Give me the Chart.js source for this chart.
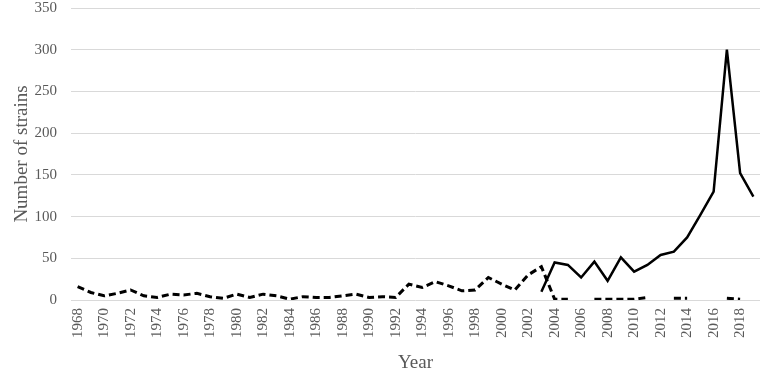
<!DOCTYPE html>
<html>
<head>
<meta charset="utf-8">
<script src="https://cdn.jsdelivr.net/npm/chart.js@4/dist/chart.umd.min.js"></script>
<style>
  html, body { margin: 0; padding: 0; background: #fff; }
  #wrap { width: 765px; height: 374px; position: relative; }
</style>
</head>
<body>
<div id="wrap"><canvas id="chart"></canvas></div>
<script>
// Years 1968 - 2019
const years = [];
for (let y = 1968; y <= 2019; y++) years.push(String(y));

// dashed series, 1968..2019 (null = no value)
const dashedValues = [
  16, 9, 5, 8, 12, 5, 3, 7, 6, 8,
  4, 2, 7, 3, 7, 5, 1, 4, 3, 3,
  5, 7, 3, 4, 3, 19, 15, 22, 17, 11,
  12, 27, 19, 12, 30, 40, 1, 1, null, 1,
  1, 1, 1, 3, null, 2, 2, null, null, 2,
  1, null
];

// solid series, 1968..2019
const solidValues = [
  null, null, null, null, null, null, null, null, null, null,
  null, null, null, null, null, null, null, null, null, null,
  null, null, null, null, null, null, null, null, null, null,
  null, null, null, null, null, 10, 45, 42, 27, 46,
  23, 51, 34, 42, 54, 58, 75, 102, 130, 300,
  152, 124
];

const yTicks = [0, 50, 100, 150, 200, 250, 300, 350];

const serif = '"Liberation Serif", "Times New Roman", serif';

new Chart(document.getElementById('chart'), {
  type: 'line',
  data: {
    labels: years,
    datasets: [
      {
        label: 'dashed',
        data: dashedValues,
        borderColor: '#000',
        borderWidth: 3,
        borderDash: [7, 4],
        pointRadius: 0,
        tension: 0,
        spanGaps: false
      },
      {
        label: 'solid',
        data: solidValues,
        borderColor: '#000',
        borderWidth: 2.5,
        pointRadius: 0,
        tension: 0,
        spanGaps: false
      }
    ]
  },
  options: {
    responsive: true,
    maintainAspectRatio: false,
    animation: false,
    layout: { padding: { top: 8, right: 5, left: 0, bottom: 0 } },
    plugins: {
      legend: { display: false },
      tooltip: { enabled: false }
    },
    scales: {
      x: {
        offset: true,
        grid: { display: false, drawTicks: false },
        border: { display: false },
        ticks: {
          autoSkip: false,
          minRotation: 90,
          maxRotation: 90,
          padding: 8,
          color: '#595959',
          font: { family: serif, size: 15 },
          callback: function(value, index) {
            return index % 2 === 0 ? years[index] : '';
          }
        },
        title: {
          display: true,
          text: 'Year',
          color: '#595959',
          font: { family: serif, size: 19 },
          padding: { top: 4, bottom: 0 }
        },
        afterFit: function(scale) {
          scale.height = 74;
          scale.paddingLeft = 0;
          scale.paddingRight = 0;
        }
      },
      y: {
        min: 0,
        max: 350,
        afterBuildTicks: function(scale) {
          scale.ticks = yTicks.map(v => ({ value: v }));
        },
        grid: { color: '#d9d9d9', lineWidth: 1, drawTicks: false },
        border: { display: false },
        ticks: {
          padding: 14,
          color: '#595959',
          font: { family: serif, size: 15 }
        },
        title: {
          display: true,
          text: 'Number of strains',
          color: '#595959',
          font: { family: serif, size: 19 },
          padding: { top: 11, bottom: 4 }
        },
        afterFit: function(scale) {
          scale.width = 71;
          scale.paddingTop = 0;
          scale.paddingBottom = 0;
        }
      }
    }
  }
});
</script>
</body>
</html>
